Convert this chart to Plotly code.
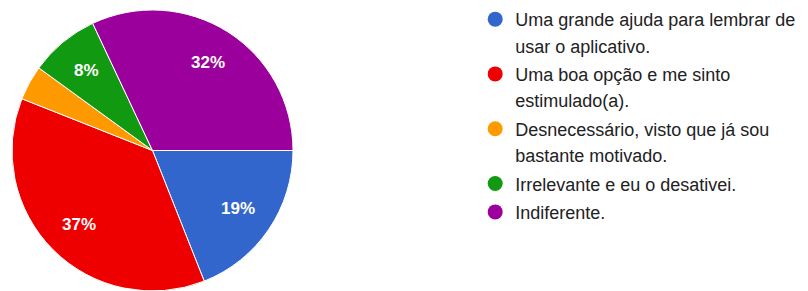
import math
import plotly.graph_objects as go

# Each answer's legend text, split into its display lines
label_lines = [
    ["Uma grande ajuda para lembrar de", "usar o aplicativo."],
    ["Uma boa opção e me sinto", "estimulado(a)."],
    ["Desnecessário, visto que já sou", "bastante motivado."],
    ["Irrelevante e eu o desativei."],
    ["Indiferente."],
]
values = [19, 37, 4, 8, 32]
colors = ["#3366cc", "#ee0000", "#ff9900", "#119911", "#9c009c"]

W, H = 800, 283  # page body adds an 8px offset in the 808x291 window
labels = [" ".join(l) for l in label_lines]
total = sum(values)

dom_x = [4 / W, 285 / W]
dom_y = [0, 281 / H]

fig = go.Figure()
fig.add_trace(go.Pie(
    labels=labels, values=values, sort=False, direction="clockwise", rotation=90,
    marker=dict(colors=colors, line=dict(color="white", width=1)),
    textinfo="none", showlegend=False, hoverinfo="label+percent",
    domain=dict(x=dom_x, y=dom_y),
))

# percentage labels placed along each slice's mid-angle (as the original renderer does)
cx_px = (dom_x[0] + dom_x[1]) / 2 * W
cy_px = (dom_y[0] + dom_y[1]) / 2 * H
r_px = min((dom_x[1] - dom_x[0]) * W, (dom_y[1] - dom_y[0]) * H) / 2
cum = 0.0
for v in values:
    frac = v / total
    mid = cum + frac / 2
    cum += frac
    if frac < 0.05:
        continue
    theta = -2 * math.pi * mid  # start at 3 o'clock, clockwise
    fig.add_annotation(
        x=(cx_px + 0.74 * r_px * math.cos(theta)) / W,
        y=(cy_px + 0.74 * r_px * math.sin(theta)) / H,
        xref="paper", yref="paper", xanchor="center", yanchor="middle",
        text=f"<b>{round(frac * 100)}%</b>", showarrow=False,
        font=dict(color="white", size=17, family="Liberation Sans"),
    )

for i, (lines, col) in enumerate(zip(label_lines, colors)):
    for j, line in enumerate(lines):
        fig.add_trace(go.Scatter(
            x=[None], y=[None], mode="markers", name=line, legendgroup=f"g{i}",
            marker=dict(symbol="circle", size=15, color=col if j == 0 else "rgba(0,0,0,0)"),
            hoverinfo="skip",
        ))

fig.update_layout(
    width=W, height=H,
    margin=dict(l=0, r=0, t=0, b=0, autoexpand=False),
    paper_bgcolor="white", plot_bgcolor="white",
    xaxis=dict(visible=False), yaxis=dict(visible=False),
    legend=dict(
        x=0.584, y=1.025, xanchor="left", yanchor="top", maxheight=400,
        font=dict(size=18, family="Liberation Sans", color="#222222"),
        tracegroupgap=2, bgcolor="rgba(0,0,0,0)",
    ),
    font=dict(family="Liberation Sans"),
)
fig.write_html("out.html")
